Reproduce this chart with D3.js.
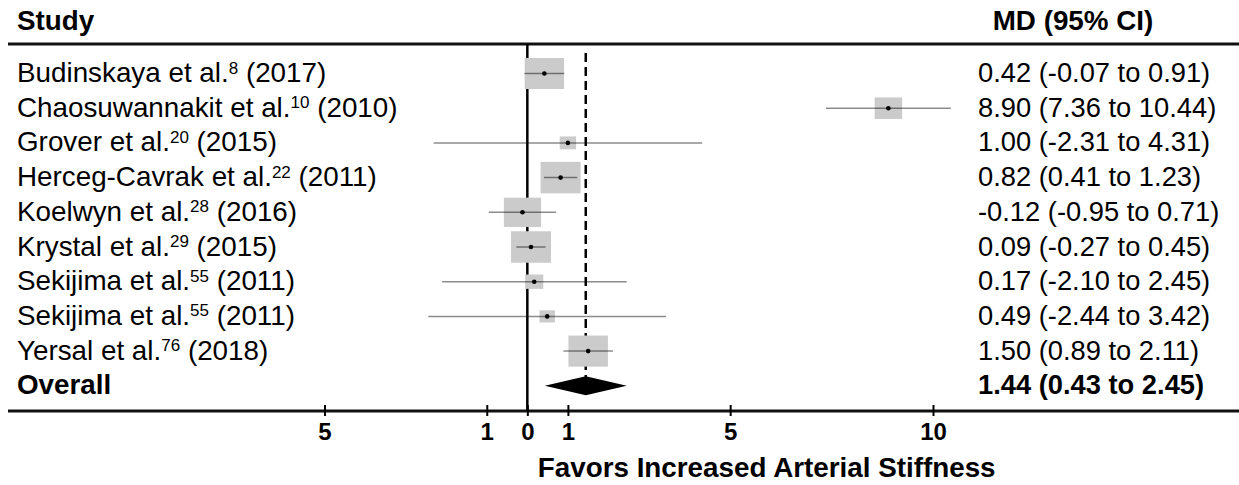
<!DOCTYPE html>
<html>
<head>
<meta charset="utf-8">
<script src="https://cdn.jsdelivr.net/npm/d3@7"></script>
<style>
  body { margin: 0; background: #fff; }
  svg text { font-family: "Liberation Sans", Arial, sans-serif; fill: #000; }
</style>
</head>
<body>
<div id="chart"></div>
<script>
// study level data
const authors = ["Budinskaya", "Chaosuwannakit", "Grover", "Herceg-Cavrak", "Koelwyn",
  "Krystal", "Sekijima", "Sekijima", "Yersal"];
const refs = ["8", "10", "20", "22", "28", "29", "55", "55", "76"];
const years = ["2017", "2010", "2015", "2011", "2016", "2015", "2011", "2011", "2018"];
const md = [0.42, 8.90, 1.00, 0.82, -0.12, 0.09, 0.17, 0.49, 1.50];
const lower = [-0.07, 7.36, -2.31, 0.41, -0.95, -0.27, -2.10, -2.44, 0.89];
const upper = [0.91, 10.44, 4.31, 1.23, 0.71, 0.45, 2.45, 3.42, 2.11];
// relative weights
const weights = [15.0, 7.3, 2.6, 15.5, 13.4, 15.5, 3.2, 2.3, 15.1];

// pooled estimate
const overall = [1.44, 0.43, 2.45];

const tickValues = [-5, -1, 0, 1, 5, 10];

const width = 1239, height = 485;

const svg = d3.select("#chart").append("svg")
  .attr("width", width)
  .attr("height", height);

const x = d3.scaleLinear().domain([-5, 10]).range([324.5, 933]);
const rows = d3.range(authors.length + 1);
const y = d3.scalePoint().domain(rows).range([73.5, 385.8]);
const boxH = d3.scaleSqrt().domain([0, d3.max(weights)]).range([0, 31.5]);

// plain hyphen for negatives, like the source figure
const fmt = d3.formatLocale({decimal: ".", thousands: ",", grouping: [3], currency: ["", ""], minus: "-"}).format(".2f");
const topY = 44, axisY = 411;
const fs = 27.8, fsR = 27.3;

// header
svg.append("text").attr("x", 17).attr("y", 30)
  .attr("font-size", fs).attr("font-weight", 700).text("Study");
svg.append("text").attr("x", 1073).attr("y", 30).attr("text-anchor", "middle")
  .attr("font-size", fs).attr("font-weight", 700).text("MD (95% CI)");

// top rule and bottom axis line
svg.append("line").attr("x1", 8).attr("x2", width).attr("y1", topY).attr("y2", topY)
  .attr("stroke", "#111").attr("stroke-width", 2.8);
svg.append("line").attr("x1", 8).attr("x2", width).attr("y1", axisY).attr("y2", axisY)
  .attr("stroke", "#111").attr("stroke-width", 2.8);

// no effect line
svg.append("line").attr("x1", x(0)).attr("x2", x(0)).attr("y1", topY).attr("y2", axisY)
  .attr("stroke", "#000").attr("stroke-width", 2.5);

// overall line
svg.append("line").attr("x1", x(overall[0])).attr("x2", x(overall[0]))
  .attr("y1", 53).attr("y2", y(rows.length - 1))
  .attr("stroke", "#000").attr("stroke-width", 2.5)
  .attr("stroke-dasharray", "9,5");

// studies
const data = authors.map((a, i) => ({
  author: a, ref: refs[i], year: years[i], md: md[i], lo: lower[i], hi: upper[i], w: weights[i], i: i
}));

const g = svg.selectAll("g.study").data(data).enter().append("g").attr("class", "study");

g.append("rect")
  .attr("x", d => x(d.md) - boxH(d.w) * 1.27 / 2)
  .attr("y", d => y(d.i) - boxH(d.w) / 2)
  .attr("width", d => boxH(d.w) * 1.27)
  .attr("height", d => boxH(d.w))
  .attr("fill", "#cbcbcb");

g.append("line")
  .attr("x1", d => x(d.lo)).attr("x2", d => x(d.hi))
  .attr("y1", d => y(d.i)).attr("y2", d => y(d.i))
  .attr("stroke", "#000").attr("stroke-opacity", 0.45).attr("stroke-width", 1.5);

g.append("circle")
  .attr("cx", d => x(d.md)).attr("cy", d => y(d.i))
  .attr("r", 2.3).attr("fill", "#000");

// labels
const lab = g.append("text").attr("x", 17).attr("y", d => y(d.i) + 8.5).attr("font-size", fs);
lab.append("tspan").text(d => d.author + " et al.");
lab.append("tspan").attr("font-size", 17).attr("dy", -8.5).text(d => d.ref);
lab.append("tspan").attr("dy", 8.5).text(d => " (" + d.year + ")");

g.append("text").attr("x", 978).attr("y", d => y(d.i) + 8.5).attr("font-size", fsR)
  .text(d => `${fmt(d.md)} (${fmt(d.lo)} to ${fmt(d.hi)})`);

// overall row
const oy = y(rows.length - 1);
svg.append("path")
  .attr("d", `M${x(overall[1])},${oy} L${x(overall[0])},${oy - 9.5} L${x(overall[2])},${oy} L${x(overall[0])},${oy + 9.5} Z`)
  .attr("fill", "#000");
svg.append("text").attr("x", 17).attr("y", oy + 8.5).attr("font-size", fs)
  .attr("font-weight", 700).text("Overall");
svg.append("text").attr("x", 978).attr("y", oy + 8.5).attr("font-size", fsR)
  .attr("font-weight", 700)
  .text(`${fmt(overall[0])} (${fmt(overall[1])} to ${fmt(overall[2])})`);

// x axis
const axis = d3.axisBottom(x).tickValues(tickValues)
  .tickFormat(d => Math.abs(d)).tickSizeOuter(0).tickSizeInner(10);
const ax = svg.append("g").attr("transform", `translate(0,${axisY})`).call(axis);
ax.select(".domain").remove();
ax.selectAll(".tick line").attr("y1", -6).attr("y2", 5).attr("stroke", "#000").attr("stroke-width", 2);
ax.selectAll(".tick text")
  .attr("y", 29).attr("dy", null)
  .attr("font-size", 24).attr("font-weight", 700)
  .attr("font-family", "'Liberation Sans Narrow', 'Liberation Sans', Arial, sans-serif");

svg.append("text").attr("x", x(5.9)).attr("y", 477).attr("text-anchor", "middle")
  .attr("font-size", fs).attr("font-weight", 700).text("Favors Increased Arterial Stiffness");
</script>
</body>
</html>
